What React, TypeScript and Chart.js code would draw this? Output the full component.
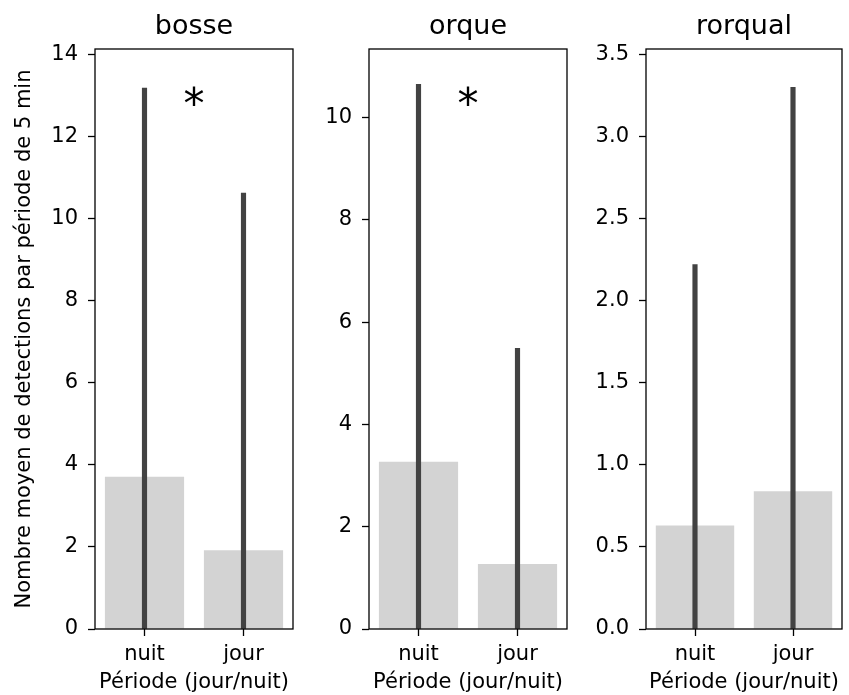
import React, { useEffect, useRef } from 'react';
import { Chart, registerables } from 'chart.js';

Chart.register(...registerables);

// ---- data ----
const categories = ['nuit', 'jour'];
const panelTitles = ['bosse', 'orque', 'rorqual'];

const bosseMeans = [3.71, 1.92];
const bosseUpper = [13.19, 10.63];
const orqueMeans = [3.27, 1.27];
const orqueUpper = [10.65, 5.49];
const rorqualMeans = [0.63, 0.84];
const rorqualUpper = [2.22, 3.3];

const bosseTicks = [0, 2, 4, 6, 8, 10, 12, 14];
const orqueTicks = [0, 2, 4, 6, 8, 10];
const rorqualTicks = [0, 0.5, 1, 1.5, 2, 2.5, 3, 3.5];

const bosseStar: number | null = 13.0;
const orqueStar: number | null = 10.42;
const rorqualStar: number | null = null;

const yAxisTitle = 'Nombre moyen de detections par période de 5 min';
const xAxisTitle = 'Période (jour/nuit)';

const FONT = '"DejaVu Sans", "Noto Sans", sans-serif';

type PanelProps = {
  title: string;
  means: number[];
  upper: number[];
  ticks: number[];
  decimals: number;
  yMax: number;
  star: number | null;
  showYTitle: boolean;
  left: number;
  width: number;
  yWidth: number;
  padRight: number;
};

function Panel(p: PanelProps) {
  const ref = useRef<HTMLCanvasElement | null>(null);
  useEffect(() => {
    if (!ref.current) return;
    const framePlugin = {
      id: 'frameAndStar',
      afterDatasetsDraw(chart: any) {
        const { ctx, chartArea } = chart;
        ctx.save();
        ctx.strokeStyle = '#000';
        ctx.lineWidth = 1.3;
        ctx.strokeRect(chartArea.left, chartArea.top, chartArea.right - chartArea.left, chartArea.bottom - chartArea.top);
        if (p.star !== null) {
          const xs = chart.scales.x;
          const ys = chart.scales.y;
          const cx = (xs.getPixelForValue(0) + xs.getPixelForValue(1)) / 2;
          const cy = ys.getPixelForValue(p.star);
          ctx.font = `42px ${FONT}`;
          ctx.fillStyle = '#000';
          ctx.textAlign = 'center';
          ctx.textBaseline = 'alphabetic';
          const m = ctx.measureText('*');
          const off = (m.actualBoundingBoxAscent - m.actualBoundingBoxDescent) / 2;
          ctx.fillText('*', cx, cy + off);
        }
        ctx.restore();
      },
    };
    const tickFont = { family: FONT, size: 21 };
    const chart = new Chart(ref.current, {
      type: 'bar',
      data: {
        labels: categories,
        datasets: [
          {
            label: 'ci',
            data: p.upper.map((u) => [0, u]) as any,
            backgroundColor: '#424242',
            borderWidth: 0,
            barThickness: 4.5,
            grouped: false,
            order: 0,
          } as any,
          {
            label: 'mean',
            data: p.means,
            backgroundColor: '#d3d3d3',
            borderWidth: 0,
            barPercentage: 0.8,
            categoryPercentage: 1,
            grouped: false,
            order: 1,
          } as any,
        ],
      },
      options: {
        animation: false,
        responsive: false,
        maintainAspectRatio: false,
        layout: { padding: { top: 10.5, right: p.padRight, bottom: 0, left: 0 } },
        plugins: {
          legend: { display: false },
          tooltip: { enabled: false },
          title: {
            display: true,
            fullSize: false,
            align: 'center',
            text: p.title,
            color: '#000',
            font: { family: FONT, size: 27, weight: 'normal' as any },
            padding: { top: 0, bottom: 6.1 },
          },
        },
        scales: {
          x: {
            type: 'category',
            offset: true,
            grid: { display: true, offset: false, drawOnChartArea: false, drawTicks: true, tickLength: 7, tickColor: '#000', tickWidth: 1.3 },
            border: { display: false },
            ticks: { font: tickFont, color: '#000', padding: 6, maxRotation: 0 },
            title: { display: true, text: xAxisTitle, color: '#000', font: tickFont, padding: { top: 0, bottom: 0 } },
            afterFit: (s: any) => {
              s.height = 66;
            },
          },
          y: {
            min: 0,
            max: p.yMax,
            grid: { display: true, drawOnChartArea: false, drawTicks: true, tickLength: 7, tickColor: '#000', tickWidth: 1.3 },
            border: { display: false },
            ticks: {
              font: tickFont,
              color: '#000',
              padding: 10,
              callback: (v: any) => Number(v).toFixed(p.decimals),
            },
            afterBuildTicks: (s: any) => {
              s.ticks = p.ticks.map((v) => ({ value: v }));
            },
            title: { display: p.showYTitle, text: yAxisTitle, color: '#000', font: tickFont, padding: { top: 12, bottom: 0 } },
            afterFit: (s: any) => {
              s.width = p.yWidth;
            },
          },
        },
      } as any,
      plugins: [framePlugin],
    });
    return () => chart.destroy();
  }, []);
  return (
    <canvas
      ref={ref}
      width={p.width}
      height={695}
      style={{ position: 'absolute', left: p.left, top: 0, width: p.width, height: 695, display: 'block' }}
    />
  );
}

export default function App() {
  useEffect(() => {
    document.body.style.margin = '0';
  }, []);
  return (
    <div style={{ position: 'relative', width: 849, height: 695, background: '#fff', overflow: 'hidden' }}>
      <Panel title={panelTitles[0]} means={bosseMeans} upper={bosseUpper} ticks={bosseTicks} decimals={0} yMax={14.14} star={bosseStar} showYTitle={true} left={0} width={300} yWidth={95} padRight={7} />
      <Panel title={panelTitles[1]} means={orqueMeans} upper={orqueUpper} ticks={orqueTicks} decimals={0} yMax={11.34} star={orqueStar} showYTitle={false} left={300} width={275} yWidth={69} padRight={8} />
      <Panel title={panelTitles[2]} means={rorqualMeans} upper={rorqualUpper} ticks={rorqualTicks} decimals={1} yMax={3.534} star={rorqualStar} showYTitle={false} left={575} width={274} yWidth={71} padRight={7} />
    </div>
  );
}
